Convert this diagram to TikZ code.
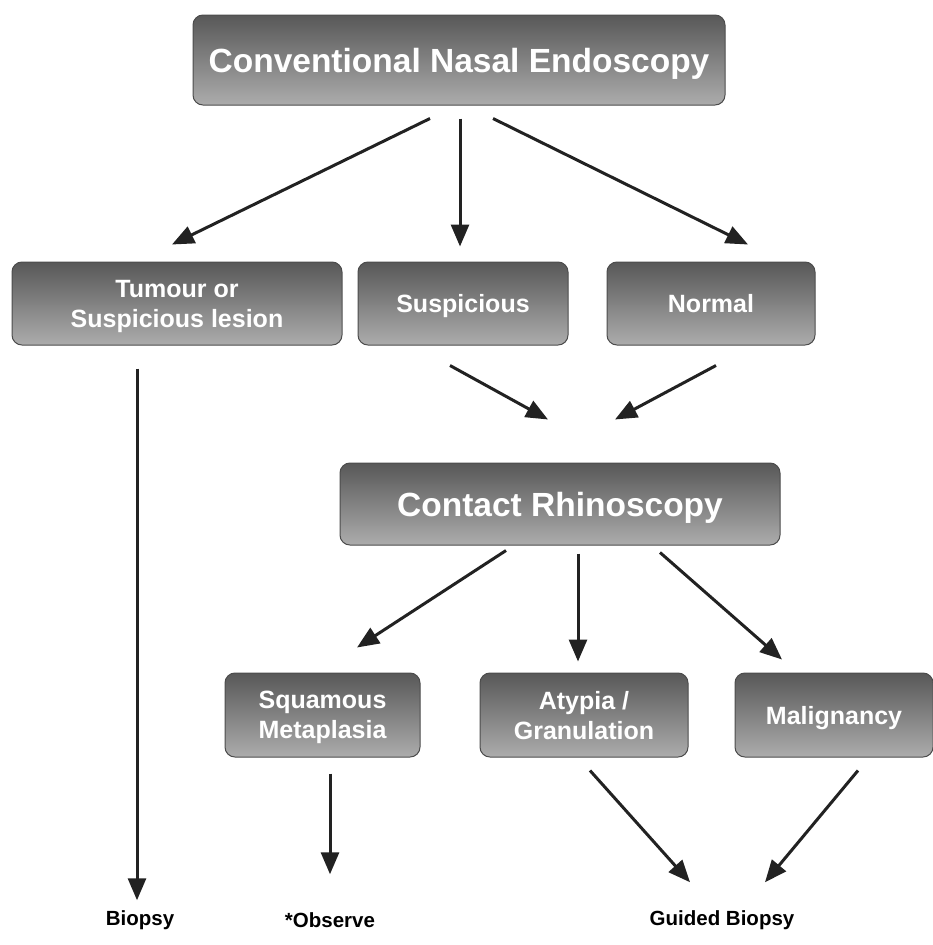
\documentclass[tikz,border=0pt]{standalone}
\usepackage{fontspec}
\setmainfont{Liberation Sans}
\usepackage{tikz}
\usetikzlibrary{arrows.meta}
\tikzstyle{chart} = [x = 1pt, y = -1pt]
\definecolor{boxTop}{RGB}{88,88,88}
\definecolor{boxBottom}{RGB}{172,172,172}
\definecolor{arrowColor}{RGB}{34,34,34}
\tikzstyle{stepBox} = [draw=black!70, line width=1pt, rounded corners=.35cm, top color=boxTop, bottom color=boxBottom, text=white, align=center, inner sep=0pt, text depth=0pt]
\tikzstyle{bigText} = [font=\fontsize{33.5}{37}\selectfont\bfseries]
\tikzstyle{smallText} = [font=\fontsize{25}{30}\selectfont\bfseries]
\tikzstyle{endText} = [font=\fontsize{20.5}{24}\selectfont\bfseries, text=black, inner sep=2pt]
\tikzstyle{flowLine} = [color=arrowColor, line width=3pt, -{Triangle[length=22pt, width=18pt]}]
\newcommand{\stepNode}[6]{\node [stepBox, #6, minimum width=#4, minimum height=#5] (#1) at #2 {#3};}
\newcommand{\flowArrow}[4]{\draw [flowLine] ([shift={#2}]#1) -- ([shift={#4}]#3);}

\begin{document}
\begin{tikzpicture}[chart]
    \useasboundingbox (0,0) rectangle (933,945);
    % boxes
    \stepNode{top}{(459,60)}{Conventional Nasal Endoscopy}{532pt}{90pt}{bigText}
    \stepNode{tumour}{(177,303.5)}{Tumour or\\Suspicious lesion}{330pt}{83pt}{smallText}
    \stepNode{susp}{(463,303.5)}{Suspicious}{210pt}{83pt}{smallText}
    \stepNode{normal}{(711,303.5)}{Normal}{208pt}{83pt}{smallText}
    \stepNode{contact}{(560,504)}{Contact Rhinoscopy}{440pt}{82pt}{bigText}
    \stepNode{squam}{(322.5,715)}{Squamous\\Metaplasia}{195pt}{84pt}{smallText}
    \stepNode{atypia}{(584,715)}{Atypia /\\Granulation}{208pt}{84pt}{smallText}
    \stepNode{malig}{(834,715)}{Malignancy}{198pt}{84pt}{smallText}
    % outcomes
    \node [endText] (biopsy) at (140,920) {Biopsy};
    \node [endText] (observe) at (330,920) {*Observe};
    \node [endText] (guided) at (722,920) {Guided Biopsy};
    % arrows
    \flowArrow{top.south}{(-29,13)}{tumour.north}{(-5,-17)}
    \flowArrow{top.south}{(1,13)}{susp.north}{(-3,-15)}
    \flowArrow{top.south}{(34,13)}{normal.north}{(37,-17)}
    \flowArrow{tumour.south}{(-40,23)}{biopsy.north}{(-3,-8)}
    \flowArrow{susp.south}{(-13,20)}{contact.north}{(-12,-43)}
    \flowArrow{normal.south}{(5,20)}{contact.north}{(55,-43)}
    \flowArrow{contact.south}{(-54,5)}{squam.north}{(34.5,-25)}
    \flowArrow{contact.south}{(18,8)}{atypia.north}{(-6,-11)}
    \flowArrow{contact.south}{(100,7)}{malig.north}{(-52,-13)}
    \flowArrow{squam.south}{(7.5,16)}{observe.north}{(0,-36)}
    \flowArrow{atypia.south}{(6,13)}{guided.north}{(-32,-26)}
    \flowArrow{malig.south}{(24,13)}{guided.north}{(43,-26)}
\end{tikzpicture}
\end{document}
